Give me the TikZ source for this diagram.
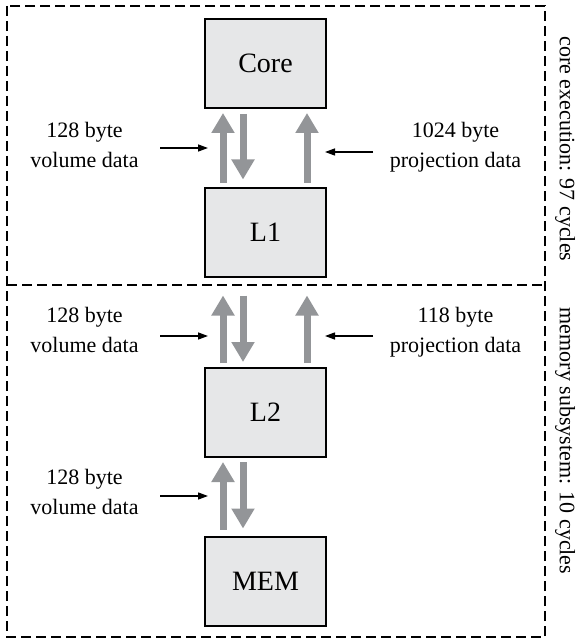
\documentclass[tikz,border=0pt]{standalone}
\usepackage{fontspec}
\setmainfont{Liberation Serif}
\usetikzlibrary{arrows.meta}
\definecolor{boxfill}{HTML}{E6E7E8}
\definecolor{arrgray}{HTML}{939598}
\begin{document}
\begin{tikzpicture}[x=1pt,y=-1pt,
  blk/.style={draw=black, line width=2pt, fill=boxfill, minimum width=121pt, minimum height=89pt, inner sep=0pt, font=\fontsize{28}{32}\selectfont},
  lbl/.style={align=center, font=\fontsize{22}{30}\selectfont, inner sep=0pt},
  side/.style={font=\fontsize{22}{26}\selectfont, inner sep=0pt, rotate=-90},
  fat/.style={draw=arrgray, line width=7pt, -{Triangle[width=22pt,length=20pt]}},
  thinarr/.style={draw=black, line width=1.3pt, -{Triangle[width=7pt,length=10pt]}},
  region/.style={draw=black, dash pattern=on 10pt off 5pt, line width=1.3pt}]
\useasboundingbox (0,0) rectangle (577,639);
% regions
\draw[region] (7,6) rectangle (545,637);
\draw[region] (7,285) -- (545,285);
\node[side] (s1) at (565,149) {core execution: 97 cycles};
\node[side] (s2) at (565,441) {memory subsystem: 10 cycles};
% blocks
\node[blk] (Core) at (265.5,63.5) {Core};
\node[blk] (L1) at (265.5,232) {L1};
\node[blk] (L2) at (265.5,412.5) {L2};
\node[blk] (MEM) at (265.5,581) {MEM};
% fat arrows set 1
\draw[fat, shorten <=4pt, shorten >=4pt] ([xshift=-42.5pt]L1.north) -- ([xshift=-42.5pt]Core.south);
\draw[fat, shorten <=5pt, shorten >=7pt] ([xshift=-22.5pt]Core.south) -- ([xshift=-22.5pt]L1.north);
\draw[fat, shorten <=4pt, shorten >=4pt] ([xshift=41.5pt]L1.north) -- ([xshift=41.5pt]Core.south);
% set 2
\draw[fat, shorten <=4pt, shorten >=18pt] ([xshift=-42.5pt]L2.north) -- ([xshift=-42.5pt]L1.south);
\draw[fat, shorten <=18pt, shorten >=5pt] ([xshift=-22.5pt]L1.south) -- ([xshift=-22.5pt]L2.north);
\draw[fat, shorten <=4pt, shorten >=18pt] ([xshift=41.5pt]L2.north) -- ([xshift=41.5pt]L1.south);
% set 3
\draw[fat, shorten <=6pt, shorten >=4pt] ([xshift=-42.5pt]MEM.north) -- ([xshift=-42.5pt]L2.south);
\draw[fat, shorten <=4pt, shorten >=7pt] ([xshift=-22.5pt]L2.south) -- ([xshift=-22.5pt]MEM.north);
% labels
\node[lbl] (v1) at (84.5,145) {128 byte\\volume data};
\node[lbl] (p1) at (455.5,147) {1024 byte\\projection data};
\node[lbl] (v2) at (84.5,330) {128 byte\\volume data};
\node[lbl] (p2) at (455.5,332) {118 byte\\projection data};
\node[lbl] (v3) at (84.5,492) {128 byte\\volume data};
% thin arrows
\coordinate (a1s) at (160,148); \coordinate (a1e) at (208,148);
\coordinate (b1s) at (373,152); \coordinate (b1e) at (325,152);
\coordinate (a2s) at (160,336); \coordinate (a2e) at (208,336);
\coordinate (b2s) at (373,336); \coordinate (b2e) at (325,336);
\coordinate (a3s) at (160,496); \coordinate (a3e) at (208,496);
\draw[thinarr] (a1s) -- (a1e);
\draw[thinarr] (b1s) -- (b1e);
\draw[thinarr] (a2s) -- (a2e);
\draw[thinarr] (b2s) -- (b2e);
\draw[thinarr] (a3s) -- (a3e);
\end{tikzpicture}
\end{document}
